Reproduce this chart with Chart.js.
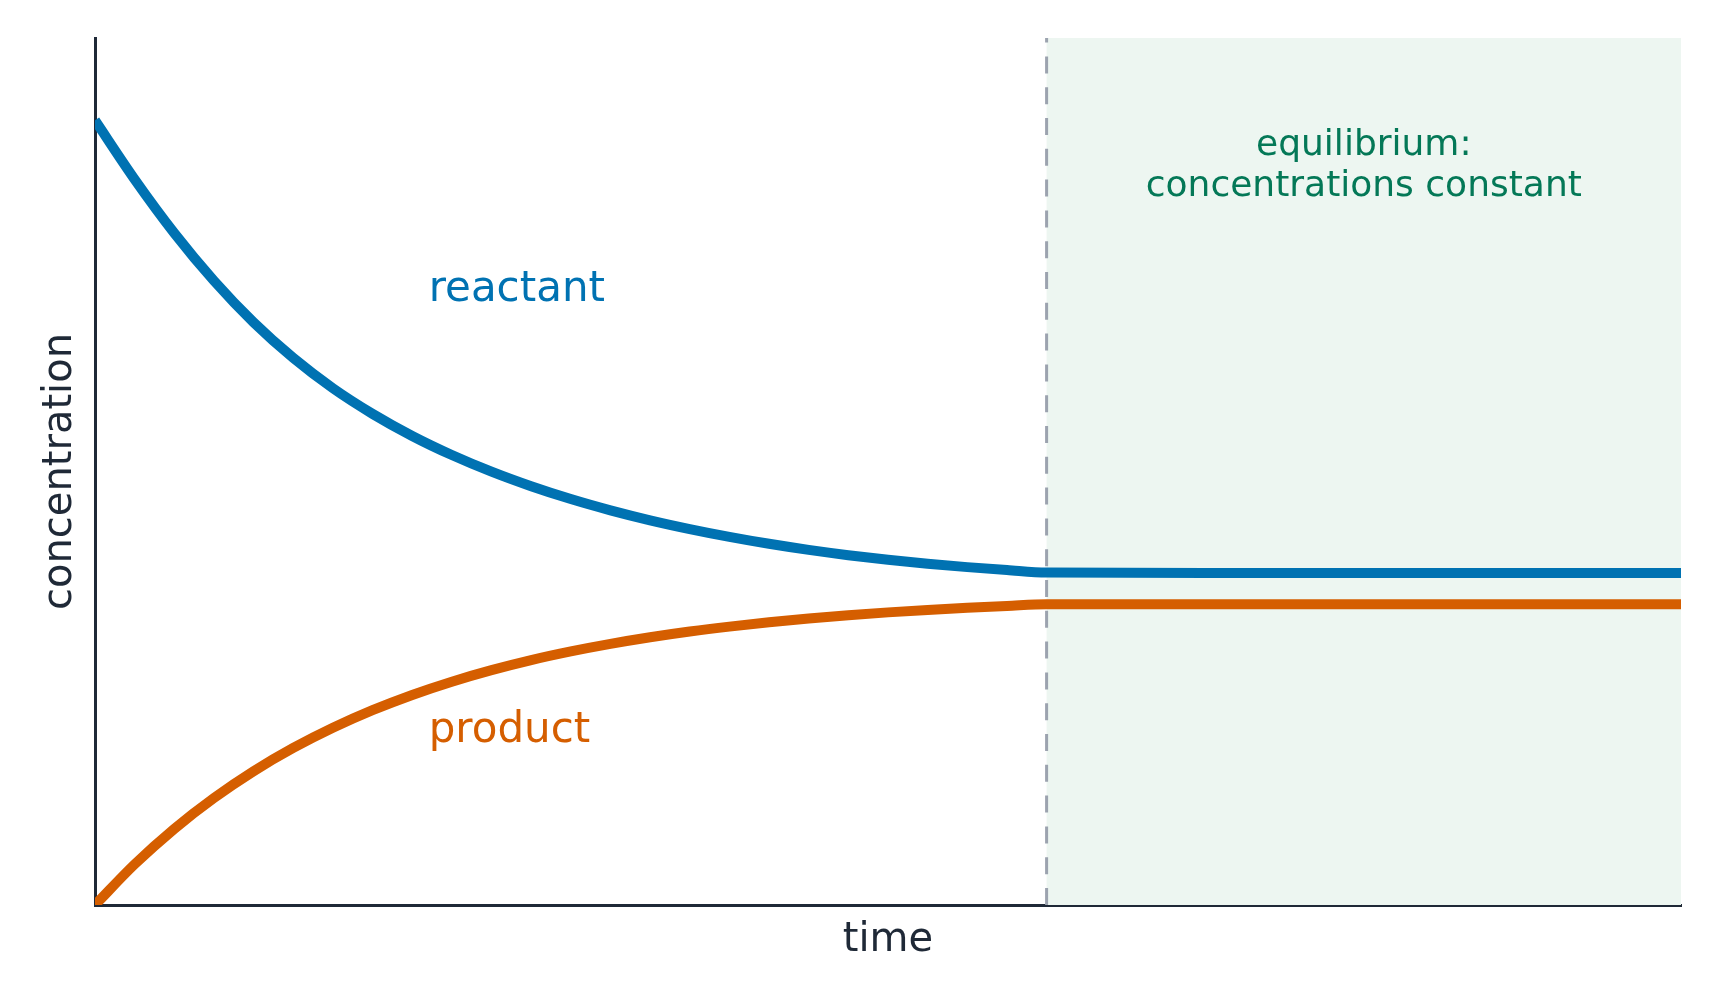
<!DOCTYPE html>
<html>
<head>
<meta charset="utf-8">
<script src="https://cdn.jsdelivr.net/npm/chart.js@4.4.1/dist/chart.umd.min.js"></script>
<style>
    html, body { margin: 0; padding: 0; background: #fff; }
    #wrap { width: 1721px; height: 1001px; position: relative; }
</style>
</head>
<body>
<div id="wrap"><canvas id="chart-equilibrium"></canvas></div>
<script>
// ── Data ──────────────────────────────────────────────────────
const TIME = [0, 0.25, 0.5, 0.75, 1, 1.25, 1.5, 1.75, 2, 2.25, 2.5, 2.75, 3,
              3.25, 3.5, 3.75, 4, 4.25, 4.5, 4.75, 5, 5.25, 5.5, 5.75, 6,
              7, 8, 9, 10];
const REACTANT = [0.905, 0.837, 0.775, 0.720, 0.672, 0.631, 0.596, 0.5665, 0.541,
                  0.519, 0.4998, 0.483, 0.4682, 0.4552, 0.4437, 0.4336, 0.4246,
                  0.4166, 0.4096, 0.4035, 0.3982, 0.3936, 0.3897, 0.3864, 0.3835,
                  0.383, 0.383, 0.383, 0.383];
const PRODUCT = [0.000, 0.0470, 0.0879, 0.1234, 0.1543, 0.1811, 0.2044, 0.2247,
                 0.2423, 0.2576, 0.2709, 0.2825, 0.2925, 0.3012, 0.3088, 0.3154,
                 0.3211, 0.3261, 0.3304, 0.3342, 0.3375, 0.3403, 0.3428, 0.3449,
                 0.3468, 0.347, 0.347, 0.347, 0.347];
const EQUILIBRIUM_START = 6;
const TIME_MAX = 10;

const FONT = '"DejaVu Sans", "Liberation Sans", sans-serif';
const C_REACT = '#0072B2';
const C_PROD  = '#D55E00';
const C_AXIS  = '#1f2937';
const C_EQ    = '#047857';

const toXY = ys => TIME.map((t, i) => ({ x: t, y: ys[i] }));

// ── Shaded zone, dashed line and text labels ──────────────────
const annotations = {
    id: 'annotations',
    beforeDatasetsDraw(chart) {
        const { ctx, chartArea: a, scales: { x } } = chart;
        const x0 = x.getPixelForValue(EQUILIBRIUM_START);
        const x1 = x.getPixelForValue(TIME_MAX);
        ctx.save();
        ctx.fillStyle = '#edf6f1';
        ctx.fillRect(x0, a.top, x1 - x0, a.bottom - a.top);
        ctx.strokeStyle = '#9ca3af';
        ctx.lineWidth = 3;
        ctx.setLineDash([17, 13.8]);
        ctx.beginPath();
        ctx.moveTo(x0, a.bottom);
        ctx.lineTo(x0, a.top);
        ctx.stroke();
        ctx.restore();
    },
    afterDatasetsDraw(chart) {
        const { ctx, scales: { x, y } } = chart;
        ctx.save();
        ctx.textBaseline = 'middle';
        ctx.font = `42px ${FONT}`;
        ctx.textAlign = 'left';
        ctx.fillStyle = C_REACT;
        ctx.fillText('reactant', x.getPixelForValue(2.104), y.getPixelForValue(0.709));
        ctx.fillStyle = C_PROD;
        ctx.fillText('product', x.getPixelForValue(2.104), y.getPixelForValue(0.201));
        ctx.font = `36px ${FONT}`;
        ctx.textAlign = 'center';
        ctx.fillStyle = C_EQ;
        ctx.fillText('equilibrium:', x.getPixelForValue(8), y.getPixelForValue(0.876));
        ctx.fillText('concentrations constant', x.getPixelForValue(8), y.getPixelForValue(0.829));
        ctx.restore();
    }
};

const ctx = document.getElementById('chart-equilibrium').getContext('2d');
new Chart(ctx, {
    type: 'line',
    data: {
        datasets: [
            { label: 'reactant', data: toXY(REACTANT), borderColor: C_REACT },
            { label: 'product',  data: toXY(PRODUCT),  borderColor: C_PROD }
        ]
    },
    options: {
        responsive: true,
        maintainAspectRatio: false,
        animation: false,
        clip: 0,
        layout: { padding: { top: 38, right: 40, left: 0, bottom: 0 } },
        elements: {
            line: { borderWidth: 10, cubicInterpolationMode: 'monotone', borderCapStyle: 'butt' },
            point: { radius: 0, hoverRadius: 0 }
        },
        plugins: { legend: { display: false }, tooltip: { enabled: false } },
        scales: {
            x: {
                type: 'linear', min: 0, max: TIME_MAX,
                grid: { display: false },
                border: { display: true, color: C_AXIS, width: 3 },
                ticks: { display: false },
                title: { display: true, text: 'time', color: C_AXIS,
                         font: { family: FONT, size: 40 }, padding: { top: 0, bottom: 36 } },
                afterFit: s => { s.height = 96; }
            },
            y: {
                min: 0, max: 1,
                grid: { display: false },
                border: { display: true, color: C_AXIS, width: 3 },
                ticks: { display: false },
                title: { display: true, text: 'concentration', color: C_AXIS,
                         font: { family: FONT, size: 40 }, padding: { top: 37, bottom: 0 } },
                afterFit: s => { s.width = 95; }
            }
        }
    },
    plugins: [annotations]
});
</script>
</body>
</html>
